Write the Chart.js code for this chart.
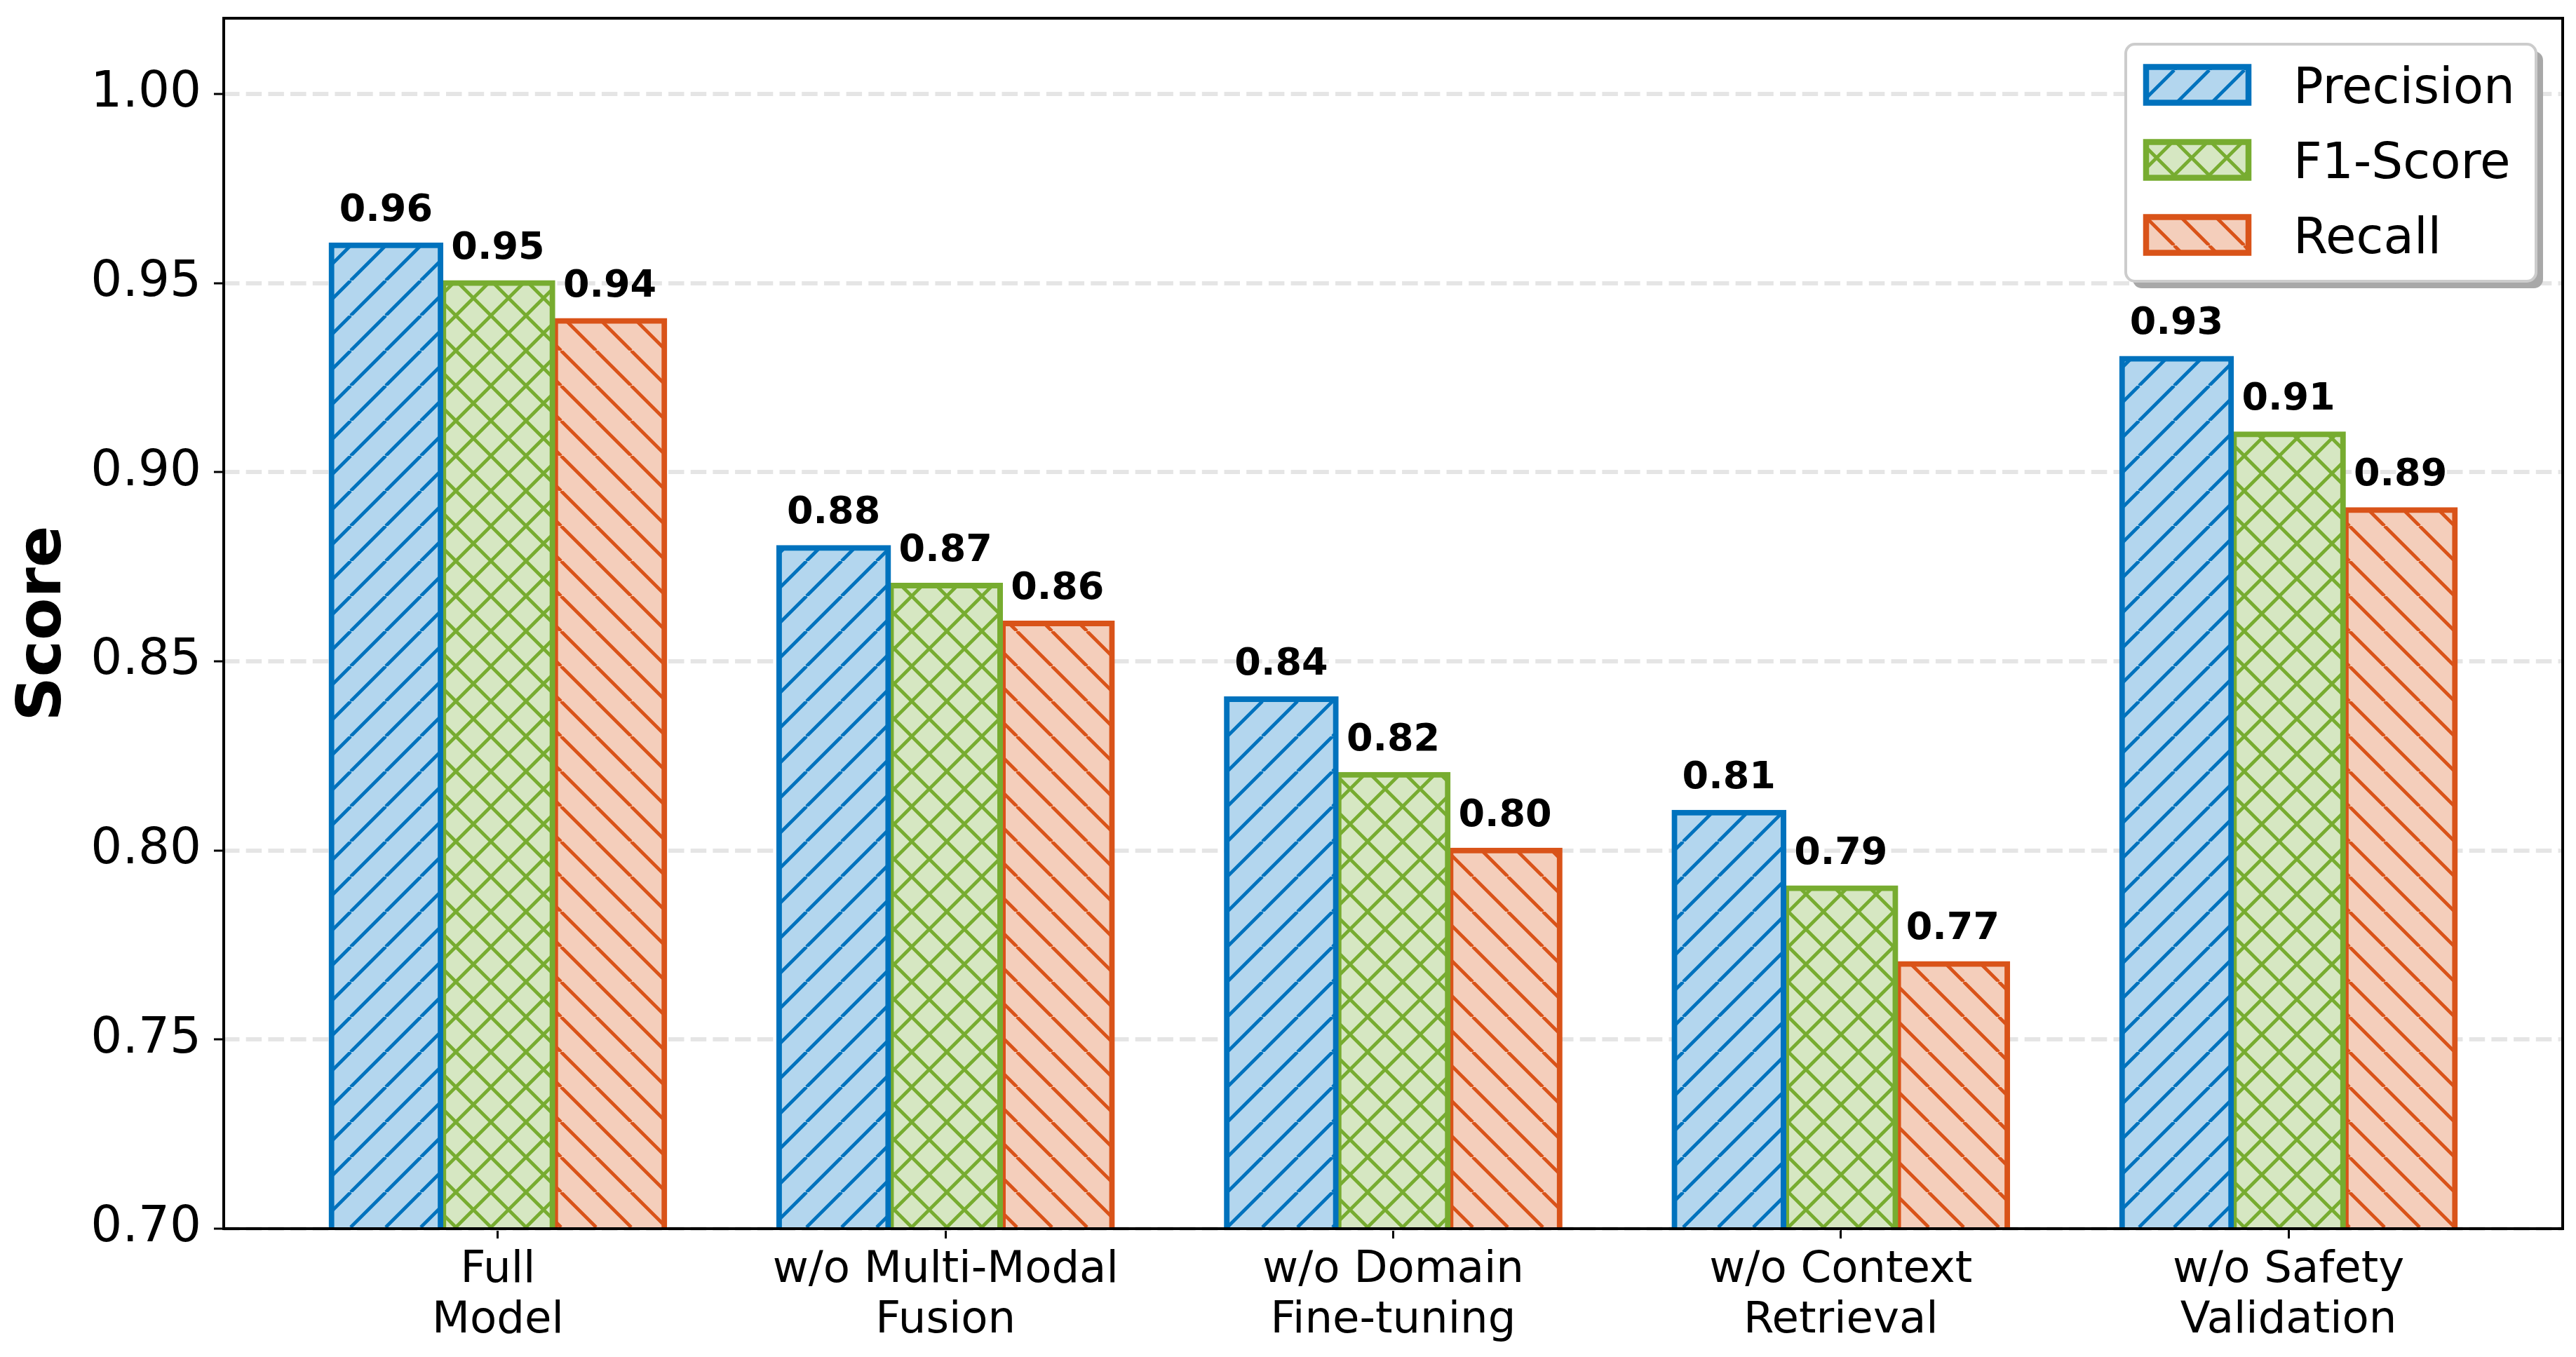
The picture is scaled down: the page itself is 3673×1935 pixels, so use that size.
<!DOCTYPE html>
<html>
<head>
<meta charset="utf-8">
<script src="https://cdn.jsdelivr.net/npm/chart.js@4.4.0/dist/chart.umd.min.js"></script>
<style>
  html, body { margin: 0; padding: 0; background: #fff; }
  #wrap { width: 3673px; height: 1935px; }
</style>
</head>
<body>
<div id="wrap"><canvas id="chart" width="3673" height="1935"></canvas></div>
<script>
const categories = [["Full", "Model"], ["w/o Multi-Modal", "Fusion"], ["w/o Domain", "Fine-tuning"], ["w/o Context", "Retrieval"], ["w/o Safety", "Validation"]];
const seriesNames = ["Precision", "F1-Score", "Recall"];
const precision = [0.96, 0.88, 0.84, 0.81, 0.93];
const f1Score = [0.95, 0.87, 0.82, 0.79, 0.91];
const recall = [0.94, 0.86, 0.80, 0.77, 0.89];
const yTicks = [0.70, 0.75, 0.80, 0.85, 0.90, 0.95, 1.00];

const FONT = "'DejaVu Sans', sans-serif";
const canvas = document.getElementById("chart");
const ctx = canvas.getContext("2d");

// matplotlib-like hatch tile: fill + diagonal lines every 50px
function hatch(fill, line, kind) {
  const s = 50, tile = document.createElement("canvas");
  tile.width = s; tile.height = s;
  const g = tile.getContext("2d");
  g.fillStyle = fill; g.fillRect(0, 0, s, s);
  g.strokeStyle = line; g.lineWidth = 4.8;
  g.beginPath();
  for (let k = -1; k <= 1; k++) {
    if (kind === "/" || kind === "x") { g.moveTo(k * s, s); g.lineTo(k * s + s, 0); }
    if (kind === "\\" || kind === "x") { g.moveTo(k * s, 0); g.lineTo(k * s + s, s); }
  }
  g.stroke();
  return ctx.createPattern(tile, "repeat");
}

const styles = [
  { edge: "#0072BD", fill: "#b3d6ee", kind: "/" },
  { edge: "#77AC30", fill: "#d6e7c2", kind: "x" },
  { edge: "#D95319", fill: "#f4cebb", kind: "\\" },
];
const seriesValues = [precision, f1Score, recall];

const datasets = seriesNames.map((name, i) => ({
  label: name,
  data: seriesValues[i].map((v, j) => ({ x: j, y: v })),
  backgroundColor: hatch(styles[i].fill, styles[i].edge, styles[i].kind),
  borderColor: styles[i].edge,
  borderWidth: 8,
  borderSkipped: "start",
  inflateAmount: 4,
  clip: { left: false, right: false, top: false, bottom: 0 },
  categoryPercentage: 0.75,
  barPercentage: 0.975,
}));

const framePlugin = {
  id: "frame",
  afterDatasetsDraw(chart) {
    const c = chart.ctx, a = chart.chartArea;
    c.save();
    // value labels
    c.fillStyle = "#000";
    c.font = `bold 54px ${FONT}`;
    c.textAlign = "center";
    c.textBaseline = "alphabetic";
    chart.data.datasets.forEach((ds, i) => {
      chart.getDatasetMeta(i).data.forEach((el, j) => {
        c.fillText(seriesValues[i][j].toFixed(2), el.x, el.y - 35);
      });
    });
    // axes box
    c.strokeStyle = "#000";
    c.lineWidth = 4;
    c.strokeRect(a.left, a.top, a.right - a.left, a.bottom - a.top);
    c.restore();
  },
};

const legendPlugin = {
  id: "boxLegend",
  afterDraw(chart) {
    const c = chart.ctx, a = chart.chartArea;
    const x0 = a.right - 623, y0 = a.top + 37, w = 585, h = 338, r = 13;
    c.save();
    c.fillStyle = "#a8a8a8";
    c.beginPath(); c.roundRect(x0 + 10, y0 + 10, w, h, r); c.fill();
    c.fillStyle = "#fff"; c.strokeStyle = "#cccccc"; c.lineWidth = 4;
    c.beginPath(); c.roundRect(x0, y0, w, h, r); c.fill(); c.stroke();
    chart.data.datasets.forEach((ds, i) => {
      const cy = y0 + 58 + i * 107;
      c.fillStyle = ds.backgroundColor;
      c.fillRect(x0 + 29, cy - 25.5, 146, 51);
      c.strokeStyle = ds.borderColor; c.lineWidth = 8.5;
      c.strokeRect(x0 + 29, cy - 25.5, 146, 51);
      c.fillStyle = "#000";
      c.font = `70.8px ${FONT}`;
      c.textAlign = "left"; c.textBaseline = "alphabetic";
      c.fillText(ds.label, x0 + 239, cy + 26);
    });
    c.restore();
  },
};

new Chart(ctx, {
  type: "bar",
  data: { datasets },
  plugins: [framePlugin, legendPlugin],
  options: {
    responsive: false,
    devicePixelRatio: 1,
    animation: false,
    layout: { padding: { left: 0, right: 19, top: 26, bottom: 0 } },
    plugins: { legend: { display: false }, tooltip: { enabled: false } },
    scales: {
      x: {
        type: "linear",
        offset: false,
        min: -0.6125,
        max: 4.6125,
        afterBuildTicks: s => { s.ticks = categories.map((_, i) => ({ value: i })); },
        afterFit: s => { s.height = 183; s.paddingLeft = 0; s.paddingRight = 0; },
        grid: { offset: false, drawOnChartArea: false, drawTicks: true, tickLength: 14, tickColor: "#000", tickWidth: 3 },
        border: { display: false },
        ticks: {
          autoSkip: false, maxRotation: 0, minRotation: 0, padding: 10, color: "#000",
          font: { family: FONT, size: 62.5, lineHeight: 1.15 },
          callback: v => categories[Math.round(v)],
        },
      },
      y: {
        min: 0.70,
        max: 1.02,
        afterBuildTicks: s => { s.ticks = yTicks.map(v => ({ value: v })); },
        afterFit: s => { s.width = 319; s.paddingTop = 0; s.paddingBottom = 0; },
        grid: { color: "#e5e5e5", lineWidth: 6, drawTicks: true, tickLength: 14, tickColor: "#000", tickWidth: 3, tickBorderDash: [] },
        border: { display: false, dash: [22.5, 9.2] },
        ticks: {
          padding: 18, color: "#000",
          font: { family: FONT, size: 70.8 },
          callback: v => v.toFixed(2),
        },
        title: {
          display: true, text: "Score", color: "#000",
          font: { family: FONT, size: 88, weight: "bold", lineHeight: 1.2 },
          padding: { top: 10, bottom: 0 },
        },
      },
    },
  },
});
</script>
</body>
</html>
